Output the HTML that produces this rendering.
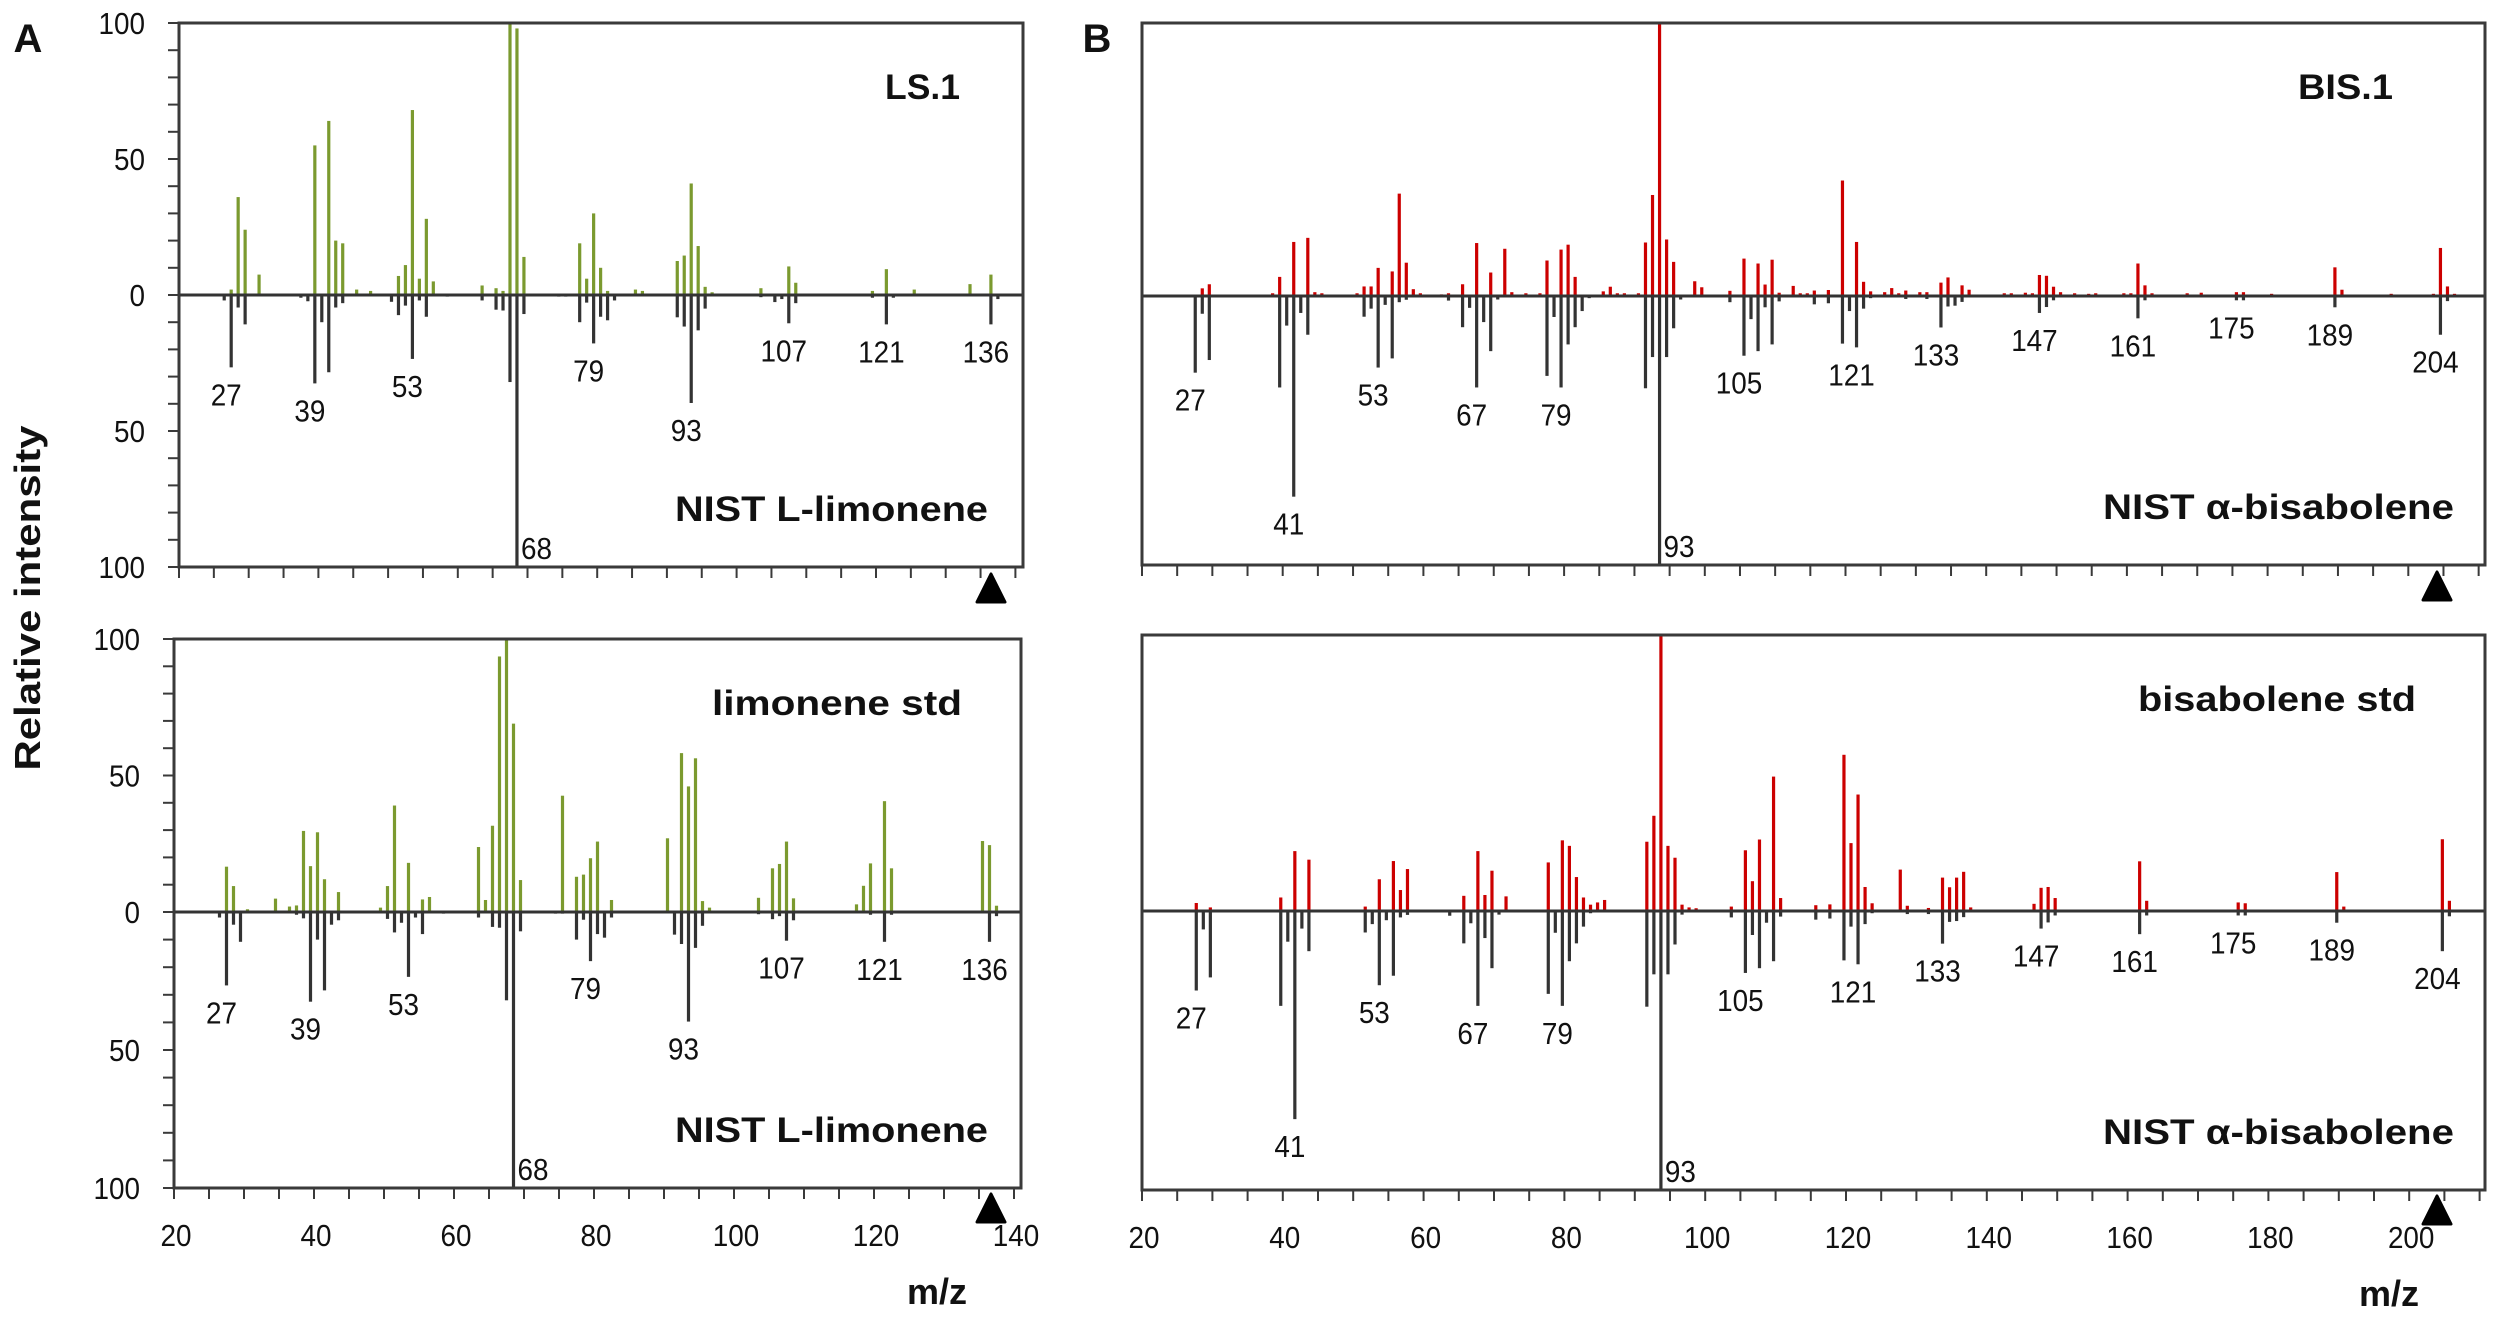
<!DOCTYPE html>
<html><head><meta charset="utf-8"><style>
html,body{margin:0;padding:0;background:#fff;}
svg{display:block;}
text{font-family:"Liberation Sans",sans-serif;fill:#111;}
</style></head><body>
<svg id="chart" width="2500" height="1320" viewBox="0 0 2500 1320" xmlns="http://www.w3.org/2000/svg">
<rect x="0" y="0" width="2500" height="1320" fill="#fff"/>
<text x="28" y="52" font-size="40" font-weight="bold" text-anchor="middle">A</text>
<text x="1097" y="52" font-size="40" font-weight="bold" text-anchor="middle">B</text>
<text transform="translate(40,598) rotate(-90)" font-size="36" font-weight="bold" text-anchor="middle" textLength="345" lengthAdjust="spacingAndGlyphs">Relative intensity</text>
<g id="layer"></g>
</svg>
<script>
// ---- Data (m/z and relative intensities) ----
const lsMz  = [27,28,29,31,32,39,41,42,43,45,47,51,52,53,54,55,56,63,65,66,67,68,69,73,77,78,79,80,81,85,86,91,92,93,94,95,96,98,103,107,108,119,121,125,133,136];
const lsInt = [2,36,24,7.5,0.5,55,64,20,19,2,1.5,7,11,68,6,28,5,3.5,2.5,1.5,100,98,14,0.5,19,6,30,10,1.5,2,1.5,12.5,14.5,41,18,3,1,0.5,2.5,10.5,4.5,1.5,9.5,2,4,7.5];
const limStdMz  = [27,28,30,34,36,37,38,39,40,41,43,49,50,51,53,55,56,63,64,65,66,67,68,69,75,77,78,79,80,82,90,92,93,94,95,96,103,105,106,107,108,117,118,119,121,122,135,136,137];
const limStdInt = [16.6,9.5,1,4.9,2,2.4,29.7,16.8,29.2,12,7.3,1.6,9.5,39,18,4.6,5.5,23.8,4.4,31.6,93.6,100,69,11.7,42.6,12.9,13.7,19.7,25.8,4.4,27,58.2,46,56.3,4,1.6,5.2,16,17.6,25.8,5,2.8,9.6,17.8,40.6,16,26,24.5,2.3];
const nistLimMz  = [26,27,28,29,37,38,39,40,41,42,43,50,51,52,53,54,55,58,63,65,66,67,68,69,74,75,77,78,79,80,81,82,91,92,93,94,95,103,105,106,107,108,119,121,122,136,137];
const nistLimInt = [2,26.6,4.6,10.8,1,2.3,32.5,10,28.4,4.6,3,2.5,7.4,3.9,23.5,2,8,0.6,2,5.4,5.7,32,100,7,0.6,0.6,10,2.8,17.8,8,9.3,2,8.2,11.6,39.7,13,5,0.8,2.6,1.5,10.4,3,1,10.8,1,10.8,1.5];
const limLabels = [27,39,53,68,79,93,107,121,136];

const bisMz  = [28,29,38,39,41,43,44,45,50,51,52,53,55,56,57,58,59,62,63,65,67,69,71,72,74,76,77,79,80,81,85,86,87,88,90,91,92,93,94,95,98,99,103,105,107,108,109,110,112,113,114,115,117,119,121,122,123,125,126,127,128,130,131,133,134,136,137,142,143,145,146,147,148,149,150,152,154,155,159,160,161,162,163,168,170,175,176,180,189,190,197,203,204,205,206];
const bisInt = [2.8,4.3,1,7,19.8,21.3,1.4,1,1,3.5,3.5,10.3,9,37.5,12.2,2.5,1,0.6,1,4.3,19.4,8.6,17.3,1.4,1,1,13,17,18.8,7,1.7,3.4,1,1,1,19.6,37,100,20.7,12.5,5.4,3.2,1.9,13.7,11.9,4.2,13.3,1.2,3.7,1,1,2,2.2,42.3,19.8,5.2,1.7,1.4,2.9,1,2,1.4,1.4,4.9,6.8,3.9,2.3,1,1,1.2,1,7.7,7.4,3.4,1.4,1,0.8,1,1,1,11.9,3.9,1,1,1.2,1.4,1.4,0.8,10.5,2.3,0.8,0.8,17.6,3.5,0.8];
const bisStdMz  = [27,29,39,41,43,51,53,55,56,57,65,67,68,69,71,77,79,80,81,82,83,84,85,91,92,93,94,95,96,97,98,103,105,106,107,109,110,115,117,119,120,121,122,123,127,128,131,133,134,135,136,137,146,147,148,149,161,162,175,176,189,190,204,205];
const bisStdInt = [2.9,1.3,4.9,21.7,18.6,1.6,11.5,18.1,7.6,15.2,5.5,21.7,5.8,14.6,5.3,17.6,25.6,23.6,12.3,4.9,2.3,3.1,4,25.1,34.5,100,23.6,19.3,2.3,1.3,1,1.6,22,10.8,25.9,48.7,4.7,2.1,2.4,56.6,24.6,42.2,8.7,2.8,15,1.9,1.1,12.1,8.6,12.1,14.2,1.3,2.6,8.4,8.7,4.7,18,3.7,3.1,2.8,14.1,1.6,26,3.7];
const nistBisMz  = [27,28,29,39,40,41,42,43,51,52,53,54,55,56,57,63,65,66,67,68,69,70,77,78,79,80,81,82,83,91,92,93,94,95,96,103,105,106,107,108,109,110,115,117,119,120,121,122,123,128,131,133,134,135,136,147,148,149,161,162,175,176,189,204,205];
const nistBisInt = [28.5,6.6,23.8,34,11,74.6,6.3,14.4,7.7,4.7,26.6,3.3,23.2,2.3,1.4,1.7,11.6,4.4,34,9.7,20.5,1.3,29.7,7.8,34,18,11.6,5.6,0.8,34.3,22.7,100,22.7,12,1.3,2.3,22.2,8.6,20.5,4.2,18,2,3.1,2.7,17.7,5.6,19.1,4.7,0.8,1.1,1.1,11.7,3.9,3.6,2.2,6.3,4.1,1.6,8.3,1.6,1.6,1.6,4.2,14.4,1.9];
const bisLabels = [27,41,53,67,79,93,105,121,133,147,161,175,189,204];

const limTicks = [20,40,60,80,100,120,140];
const bisTicks = [20,40,60,80,100,120,140,160,180,200];
const yTickLabels = ["100","50","0","50","100"];

const NS = "http://www.w3.org/2000/svg";
const layer = document.getElementById('layer');
function mk(tag, attrs, parent){
  const e = document.createElementNS(NS, tag);
  for (const k in attrs) e.setAttribute(k, attrs[k]);
  (parent||layer).appendChild(e);
  return e;
}
function numText(g, x, y, s, anchor){
  const t = mk('text', {x: x, y: y, 'font-size': 31, 'text-anchor': anchor,
    textLength: String(s).length * 15.5, lengthAdjust: 'spacingAndGlyphs'}, g);
  t.textContent = s;
  return t;
}

function panel(p){
  const g = mk('g', {});
  
  
  const xs = m => p.x20 + (m - 20) * p.unit;
  const yUp = v => p.zero - v * (p.zero - p.top) / 100;
  const yDn = v => p.zero + v * (p.bottom - p.zero) / 100;

  p.upMz.forEach((m, i) => {
    const b = mk('rect', {x: xs(m) - 1.6, y: yUp(p.upInt[i]), width: 3.2, height: p.zero - yUp(p.upInt[i]), fill: p.color}, g);
    
    
  });
  p.dnMz.forEach((m, i) => {
    const b = mk('rect', {x: xs(m) - 1.6, y: p.zero, width: 3.2, height: yDn(p.dnInt[i]) - p.zero, fill: '#333'}, g);
    
    
  });
  const bl = mk('line', {x1: p.left, x2: p.right, y1: p.zero, y2: p.zero, stroke: '#333', 'stroke-width': 3}, g);
  
  
  const fr = mk('rect', {x: p.left, y: p.top, width: p.right - p.left, height: p.bottom - p.top, fill: 'none', stroke: '#3a3a3a', 'stroke-width': 3}, g);
  
  
  for (let m = 20; xs(m) <= p.right + 1; m += 5) {
    const t = mk('line', {x1: xs(m) - (p.x20 - p.left), x2: xs(m) - (p.x20 - p.left), y1: p.bottom, y2: p.bottom + 11, stroke: '#3a3a3a', 'stroke-width': 2}, g);
    
    
  }
  if (p.yLabels) {
    for (let v = 0; v <= 100; v += 10) {
      [yUp(v), yDn(v)].forEach(y => {
        const t = mk('line', {x1: p.left - 11, x2: p.left, y1: y, y2: y, stroke: '#3a3a3a', 'stroke-width': 2}, g);
        
        
      });
    }
    const ys = [yUp(100), yUp(50), p.zero, yDn(50), yDn(100)];
    yTickLabels.forEach((s, i) => {
      const t = numText(g, p.left - 34, ys[i] + 11, s, 'end');
      
      
    });
  }
  if (p.xLabels) {
    p.xLabels.forEach(m => {
      const t = numText(g, xs(m) - (p.x20 - p.left) + 2, p.bottom + 58, m, 'middle');
      
      
    });
    const mz = mk('text', {x: p.mzX, y: p.bottom + 116, 'font-size': 36, 'font-weight': 'bold', 'text-anchor': 'middle'}, g);
    mz.textContent = 'm/z';
    
    
  }
  p.labels.forEach(m => {
    const i = p.dnMz.indexOf(m);
    const v = i >= 0 ? p.dnInt[i] : 0;
    let t;
    if (v >= 99) {
      t = numText(g, xs(m) + 4, p.bottom - 8, m, 'start');
    } else {
      t = numText(g, xs(m) - 5, yDn(v) + 38, m, 'middle');
    }
    
    
  });
  const t1 = mk('text', {x: p.titleX, y: p.top + 76, 'font-size': 35, 'font-weight': 'bold', 'text-anchor': 'end', textLength: p.titleW, lengthAdjust: 'spacingAndGlyphs'}, g);
  t1.textContent = p.title;
  
  
  const t2 = mk('text', {x: p.nistX, y: p.bottom - 46, 'font-size': 35, 'font-weight': 'bold', 'text-anchor': 'end', textLength: p.nistW, lengthAdjust: 'spacingAndGlyphs'}, g);
  t2.textContent = p.nist;
  
  
  const tr = mk('path', {d: `M${p.triX} ${p.triY} L${p.triX + 14} ${p.triY + 28} L${p.triX - 14} ${p.triY + 28} Z`, fill: '#000', 'stroke-linejoin': 'round', stroke: '#000', 'stroke-width': 3}, g);
  
  
}

const GREEN = '#7b9a2f', RED = '#cc0000';
panel({name:'panel-a-top', left:179, right:1023, top:23, zero:295, bottom:567, x20:182.4, unit:6.97,
  upMz:lsMz, upInt:lsInt, dnMz:nistLimMz, dnInt:nistLimInt, color:GREEN, labels:limLabels,
  yLabels:true, title:'LS.1', titleX:960, titleW:75, nist:'NIST L-limonene', nistX:988, nistW:313, triX:991, triY:574});
panel({name:'panel-a-bottom', left:174, right:1021, top:639, zero:912, bottom:1188, x20:177.5, unit:7.0,
  upMz:limStdMz, upInt:limStdInt, dnMz:nistLimMz, dnInt:nistLimInt, color:GREEN, labels:limLabels,
  yLabels:true, xLabels:limTicks, mzX:937, title:'limonene std', titleX:962, titleW:250, nist:'NIST L-limonene', nistX:988, nistW:313, triX:991, triY:1194});
panel({name:'panel-b-top', left:1142, right:2485, top:23, zero:296, bottom:565, x20:1146, unit:7.035,
  upMz:bisMz, upInt:bisInt, dnMz:nistBisMz, dnInt:nistBisInt, color:RED, labels:bisLabels,
  title:'BIS.1', titleX:2393, titleW:95, nist:'NIST \u03b1-bisabolene', nistX:2454, nistW:351, triX:2437, triY:572});
panel({name:'panel-b-bottom', left:1142, right:2485, top:635, zero:911, bottom:1190, x20:1147, unit:7.04,
  upMz:bisStdMz, upInt:bisStdInt, dnMz:nistBisMz, dnInt:nistBisInt, color:RED, labels:bisLabels,
  xLabels:bisTicks, mzX:2389, title:'bisabolene std', titleX:2416, titleW:278, nist:'NIST \u03b1-bisabolene', nistX:2454, nistW:351, triX:2437, triY:1196});
</script>
</body></html>
